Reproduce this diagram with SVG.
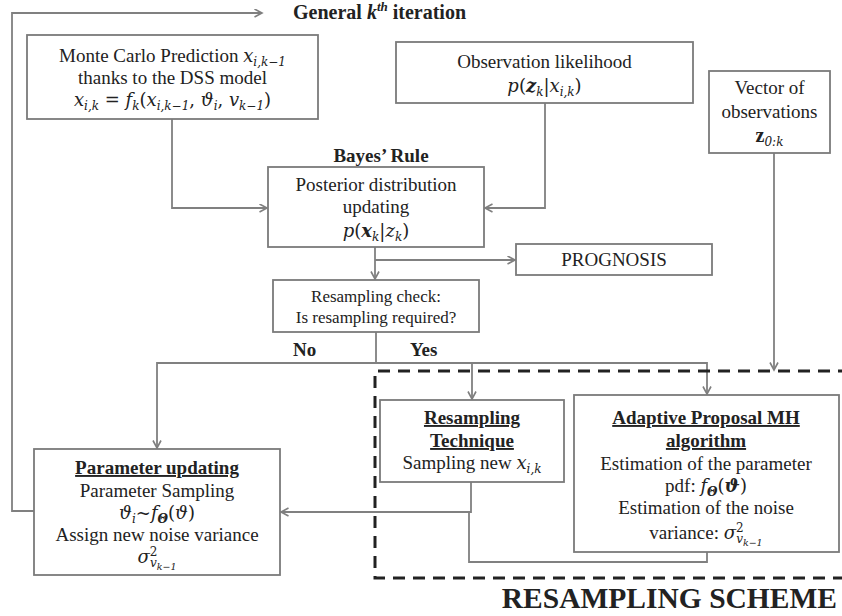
<svg xmlns="http://www.w3.org/2000/svg" width="842" height="616" viewBox="0 0 842 616" font-family="Liberation Serif, Times New Roman, serif">
<defs>
<marker id="arr" markerWidth="10" markerHeight="10" refX="8" refY="4.5" orient="auto" markerUnits="userSpaceOnUse">
<path d="M0.5,0.5 L8,4.5 L0.5,8.5" fill="none" stroke="#7f7f7f" stroke-width="1.6"/>
</marker>
<style>
.box{fill:#fff;stroke:#7a7a7a;stroke-width:1.8}
.con{fill:none;stroke:#808080;stroke-width:1.8}
.dash{fill:none;stroke:#222;stroke-width:3;stroke-dasharray:12 8}
text{font-family:"Liberation Serif","Times New Roman",serif;fill:#222;font-size:19px}
.c{text-anchor:middle}
.b{font-weight:bold}
.u{text-decoration:underline}
.i{font-family:"DejaVu Serif","Liberation Serif",serif;font-style:italic;font-size:18px}
.bi{font-family:"DejaVu Serif","Liberation Serif",serif;font-style:italic;font-weight:bold;font-size:18px}
.p{font-family:"DejaVu Serif","Liberation Serif",serif;font-size:18px}
.s{font-size:12px}
.ss{font-size:9.5px}
.sm{font-size:17px}
</style>
</defs>
<rect width="842" height="616" fill="#fff"/>

<g id="connectors">
<path class="con" d="M35 511 H12 V13 H262" marker-end="url(#arr)"/>
<path class="con" d="M172 119 V208 H267" marker-end="url(#arr)"/>
<path class="con" d="M545 103 V208 H485" marker-end="url(#arr)"/>
<path class="con" d="M375 247 V279" marker-end="url(#arr)"/>
<path class="con" d="M375 260 H515" marker-end="url(#arr)"/>
<path class="con" d="M376 332 V363 H157 V448" marker-end="url(#arr)"/>
<path class="con" d="M376 363 H707 V394" marker-end="url(#arr)"/>
<path class="con" d="M472 363 V399" marker-end="url(#arr)"/>
<path class="con" d="M774 153 V370" marker-end="url(#arr)"/>
<path class="con" d="M471 482 V512 H281" marker-end="url(#arr)"/>
<path class="con" d="M707 552 V562 H469 V512"/>
</g>

<g id="resampling-scheme">
<path class="dash" d="M850 371 H375 V578 H850"/>
<text x="837" y="608" class="b" style="font-size:29.5px;text-anchor:end">RESAMPLING SCHEME</text>
</g>

<g id="iteration-label">
<text x="293" y="19" class="b" style="font-size:20px">General <tspan style="font-style:italic">k</tspan><tspan style="font-style:italic;font-size:13px" dy="-8">th</tspan><tspan dy="8"> iteration</tspan></text>
</g>

<g id="monte-carlo">
<rect class="box" x="27" y="35" width="291" height="84"/>
<text x="172.5" y="62" class="c">Monte Carlo Prediction <tspan class="i">x</tspan><tspan class="i s" dy="4">i,k−1</tspan></text>
<text x="172.5" y="84" class="c">thanks to the DSS model</text>
<text x="172.5" y="106" class="c"><tspan class="i">x</tspan><tspan class="i s" dy="4">i,k</tspan><tspan class="p" dy="-4"> = </tspan><tspan class="i">f</tspan><tspan class="i s" dy="4">k</tspan><tspan class="p" dy="-4">(</tspan><tspan class="i">x</tspan><tspan class="i s" dy="4">i,k−1</tspan><tspan class="p" dy="-4">, </tspan><tspan class="i">ϑ</tspan><tspan class="i s" dy="4">i</tspan><tspan class="p" dy="-4">, </tspan><tspan class="i">v</tspan><tspan class="i s" dy="4">k−1</tspan><tspan class="p" dy="-4">)</tspan></text>
</g>

<g id="observation-likelihood">
<rect class="box" x="396" y="42" width="297" height="61"/>
<text x="544.5" y="68" class="c">Observation likelihood</text>
<text x="544.5" y="92" class="c"><tspan class="i">p</tspan><tspan class="p">(</tspan><tspan class="bi">z</tspan><tspan class="i s" dy="4">k</tspan><tspan class="p" dy="-4">|</tspan><tspan class="i">x</tspan><tspan class="i s" dy="4">i,k</tspan><tspan class="p" dy="-4">)</tspan></text>
</g>

<g id="vector-observations">
<rect class="box" x="709" y="71" width="121" height="82"/>
<text x="769.5" y="94" class="c">Vector of</text>
<text x="769.5" y="118" class="c">observations</text>
<text x="769.5" y="142" class="c"><tspan class="b" style="font-size:20px">z</tspan><tspan class="i s" dy="4">0:k</tspan></text>
</g>

<g id="posterior">
<text x="381" y="162" class="c b">Bayes’ Rule</text>
<rect class="box" x="268" y="167" width="216" height="80"/>
<text x="376" y="191" class="c">Posterior distribution</text>
<text x="376" y="213" class="c">updating</text>
<text x="376" y="237" class="c"><tspan class="i">p</tspan><tspan class="p">(</tspan><tspan class="bi">x</tspan><tspan class="i s" dy="4">k</tspan><tspan class="p" dy="-4">|</tspan><tspan class="i">z</tspan><tspan class="i s" dy="4">k</tspan><tspan class="p" dy="-4">)</tspan></text>
</g>

<g id="prognosis">
<rect class="box" x="516" y="244" width="196" height="31"/>
<text x="614" y="266" class="c">PROGNOSIS</text>
</g>

<g id="resampling-check">
<rect class="box" x="273" y="280" width="206" height="52"/>
<text x="376" y="302" class="c sm">Resampling check:</text>
<text x="376" y="323" class="c sm">Is resampling required?</text>
<text x="293" y="356" class="b">No</text>
<text x="410" y="356" class="b">Yes</text>
</g>

<g id="resampling-technique">
<rect class="box" x="380" y="400" width="184" height="82"/>
<text x="472" y="424" class="c b u">Resampling</text>
<text x="472" y="447" class="c b u">Technique</text>
<text x="472" y="469" class="c">Sampling new <tspan class="i">x</tspan><tspan class="i s" dy="4">i,k</tspan></text>
</g>

<g id="adaptive-mh">
<rect class="box" x="574" y="395" width="265" height="157"/>
<text x="706" y="424" class="c b u">Adaptive Proposal MH</text>
<text x="706" y="447" class="c b u">algorithm</text>
<text x="706" y="470" class="c">Estimation of the parameter</text>
<text x="706" y="492" class="c">pdf: <tspan class="i">f</tspan><tspan class="bi s" dy="4">Θ</tspan><tspan class="p" dy="-4">(</tspan><tspan class="bi">ϑ</tspan><tspan class="p">)</tspan></text>
<text x="706" y="514" class="c">Estimation of the noise</text>
<text x="706" y="539" class="c">variance: <tspan class="i">σ</tspan><tspan class="p s" dy="-7">2</tspan><tspan class="i s" dx="-7.5" dy="11">v</tspan><tspan class="i ss" dy="3">k−1</tspan></text>
</g>

<g id="parameter-updating">
<rect class="box" x="34" y="449" width="246" height="126"/>
<text x="157" y="474" class="c b u">Parameter updating</text>
<text x="157" y="497" class="c">Parameter Sampling</text>
<text x="157" y="519" class="c"><tspan class="i">ϑ</tspan><tspan class="i s" dy="4">i</tspan><tspan class="p" dy="-4">~</tspan><tspan class="i">f</tspan><tspan class="bi s" dy="4">Θ</tspan><tspan class="p" dy="-4">(</tspan><tspan class="i">ϑ</tspan><tspan class="p">)</tspan></text>
<text x="157" y="541" class="c">Assign new noise variance</text>
<text x="157" y="563" class="c"><tspan class="i">σ</tspan><tspan class="p s" dy="-7">2</tspan><tspan class="i s" dx="-7.5" dy="11">v</tspan><tspan class="i ss" dy="3">k−1</tspan></text>
</g>
</svg>
